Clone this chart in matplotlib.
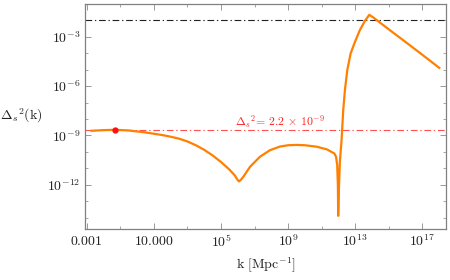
import matplotlib
matplotlib.use('Agg')
import matplotlib.pyplot as plt
import numpy as np

plt.rcParams['mathtext.fontset'] = 'cm'
plt.rcParams['font.family'] = 'serif'

# curve: log10(k), log10(Delta_s^2)
log_k = [-2.7, -2.0, -1.3, -0.5, 0.5, 1.5, 2.0, 2.5, 3.0, 3.5, 4.0, 4.5, 5.0, 5.5,
         5.83, 5.98, 6.07, 6.17, 6.33, 6.73, 7.32, 7.92, 8.51, 9.0, 9.5, 10.0,
         10.7, 11.3, 11.75, 11.85, 11.92, 11.96, 11.98, 12.02, 12.08, 12.18,
         12.28, 12.38, 12.52, 12.72, 12.98, 13.27, 13.57, 13.83, 14.07, 15.0,
         16.0, 17.0, 18.0]
log_power = [-8.72, -8.68, -8.66, -8.70, -8.82, -8.98, -9.08, -9.2, -9.37, -9.6,
             -9.88, -10.22, -10.62, -11.08, -11.45, -11.7, -11.8, -11.72, -11.52,
             -10.91, -10.3, -9.9, -9.68, -9.6, -9.58, -9.6, -9.69, -9.85, -10.1,
             -10.3, -10.8, -12.0, -13.9, -12.3, -10.6, -9.29, -7.46, -6.24, -5.03,
             -4.01, -3.3, -2.59, -2.03, -1.66, -1.82, -2.55, -3.32, -4.1, -4.89]

pivot_k = 0.05
pivot_power = 2.2e-9
upper_bound = 1e-2

x_major = [1e-3, 1e1, 1e5, 1e9, 1e13, 1e17]
x_labels = ['$0.001$', '$10.000$', '$10^{5}$', '$10^{9}$', '$10^{13}$', '$10^{17}$']
x_minor = [1e-1, 1e3, 1e7, 1e11, 1e15]
y_major = [1e-12, 1e-9, 1e-6, 1e-3]
y_labels = ['$10^{-12}$', '$10^{-9}$', '$10^{-6}$', '$10^{-3}$']
y_minor = [10.0 ** e for e in range(-14, -1)]

k = 10.0 ** np.array(log_k)
power = 10.0 ** np.array(log_power)

fig = plt.figure(figsize=(4.5, 2.8), dpi=100)
ax = fig.add_axes([85 / 450, 1 - 229 / 280, 361 / 450, 225 / 280])

ax.axhline(upper_bound, color='#222222', lw=0.8, ls=(0, (6, 2.5, 1.2, 2.5)))
ax.axhline(pivot_power, color='#ff5050', lw=0.8, ls=(0, (6, 2.5, 1.2, 2.5)))
ax.plot(k, power, color='#ff8000', lw=1.6, solid_joinstyle='round')
ax.plot([pivot_k], [pivot_power], 'o', color='#ff1010', ms=3.5)
ax.text(10 ** 8.5, 10 ** -8.4, r'$\Delta_s{}^2\!=\,2.2\,\times\,10^{-9}$',
        color='#ff2020', fontsize=8.5, ha='center', va='baseline')

ax.set_xscale('log')
ax.set_yscale('log')
ax.set_xlim(10 ** -3.1, 10 ** 18.4)
ax.set_ylim(10 ** -14.7, 10 ** -1.0)

ax.set_xticks(x_major)
ax.set_xticklabels(x_labels)
ax.set_xticks(x_minor, minor=True)
ax.set_xticklabels([], minor=True)
ax.set_yticks(y_major)
ax.set_yticklabels(y_labels)
ax.set_yticks(y_minor, minor=True)
ax.set_yticklabels([], minor=True)

for s in ax.spines.values():
    s.set_color('#808080')
    s.set_linewidth(0.9)
ax.tick_params(which='both', direction='in', top=True, right=True,
               color='#999999', labelsize=10, labelcolor='#222222')
ax.tick_params(which='major', length=4, width=0.7)
ax.tick_params(which='minor', length=2.5, width=0.6)

ax.set_xlabel(r'$\mathrm{k\ [Mpc^{-1}]}$', fontsize=10, color='#222222', labelpad=4)
ax.set_ylabel(r'$\Delta_s{}^2(\mathrm{k})$', fontsize=10, color='#222222',
              rotation=0, ha='left', va='center')
ax.yaxis.set_label_coords(-0.235, 0.505)

fig.savefig('out.png', dpi=100)
